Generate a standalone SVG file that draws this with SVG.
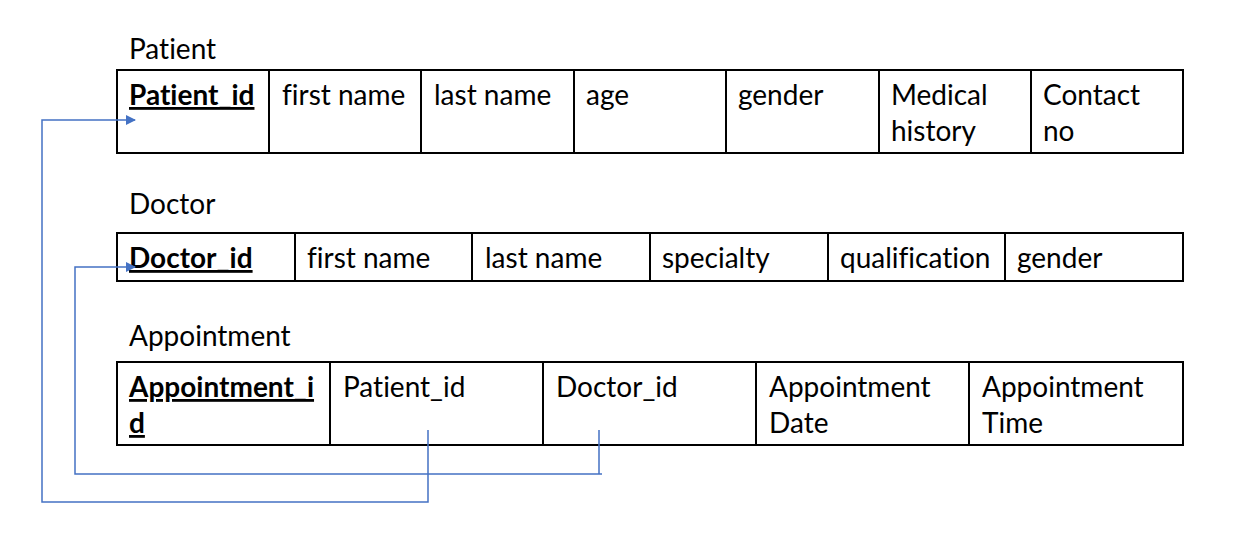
<svg xmlns="http://www.w3.org/2000/svg" width="1238" height="548" viewBox="0 0 1238 548">
<style>
text{font-family:Lato,"Open Sans",sans-serif;font-size:28px;fill:#000;font-variant-ligatures:none}
.k{font-weight:bold;text-decoration:underline}
.c{fill:#fff;stroke:#000;stroke-width:2}
.l{fill:none;stroke:#4472C4;stroke-width:1.5}
</style>
<defs>
<marker id="a" markerWidth="10" markerHeight="10" refX="9" refY="5" orient="auto" markerUnits="userSpaceOnUse"><path d="M0,0 L10,5 L0,10 z" fill="#4472C4"/></marker>
</defs>
<rect width="1238" height="548" fill="#fff"/>
<g id="patient">
<text x="129" y="59">Patient</text>
<rect class="c" x="117" y="70" width="1066" height="83"/>
<path d="M269,70V153M421,70V153M574,70V153M726,70V153M879,70V153M1031,70V153" stroke="#000" stroke-width="2"/>
<text class="k" x="129" y="105">Patient_id</text>
<text x="282" y="105">first name</text>
<text x="434" y="105">last name</text>
<text x="586" y="105">age</text>
<text x="738" y="105">gender</text>
<text x="891" y="105">Medical</text>
<text x="891" y="141">history</text>
<text x="1043" y="105">Contact</text>
<text x="1043" y="141">no</text>
</g>
<g id="doctor">
<text x="129" y="214">Doctor</text>
<rect class="c" x="117" y="233" width="1066" height="48"/>
<path d="M295,233V281M472,233V281M650,233V281M828,233V281M1005,233V281" stroke="#000" stroke-width="2"/>
<text class="k" x="129" y="268">Doctor_id</text>
<text x="307" y="268">first name</text>
<text x="485" y="268">last name</text>
<text x="662" y="268">specialty</text>
<text x="840" y="268">qualification</text>
<text x="1017" y="268">gender</text>
</g>
<g id="appointment">
<text x="129" y="346">Appointment</text>
<rect class="c" x="117" y="362" width="1066" height="83"/>
<path d="M330,362V445M543,362V445M756,362V445M969,362V445" stroke="#000" stroke-width="2"/>
<text class="k" x="129" y="397">Appointment_i</text>
<text class="k" x="129" y="433">d</text>
<text x="343" y="397">Patient_id</text>
<text x="556" y="397">Doctor_id</text>
<text x="769" y="397">Appointment</text>
<text x="769" y="433">Date</text>
<text x="982" y="397">Appointment</text>
<text x="982" y="433">Time</text>
</g>
<g id="connectors">
<path class="l" d="M428,430V502H42V120H135" marker-end="url(#a)"/>
<path class="l" d="M599,430V474M602,474H75V267H135" marker-end="url(#a)"/>
</g>
</svg>
